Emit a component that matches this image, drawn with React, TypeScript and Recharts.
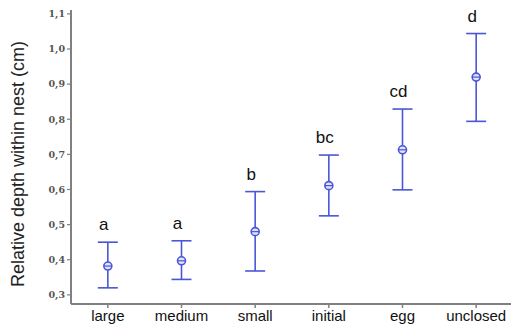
import { ComposedChart, Scatter, ErrorBar, XAxis, YAxis } from "recharts";

const categories = ["large", "medium", "small", "initial", "egg", "unclosed"];
const means = [0.382, 0.397, 0.48, 0.611, 0.713, 0.92];
const lows = [0.32, 0.344, 0.368, 0.525, 0.599, 0.794];
const highs = [0.45, 0.454, 0.594, 0.698, 0.829, 1.044];
const letters = ["a", "a", "b", "bc", "cd", "d"];
const yTicks = [0.3, 0.4, 0.5, 0.6, 0.7, 0.8, 0.9, 1.0, 1.1];

const data = categories.map((name, i) => ({
  name,
  mean: means[i],
  high: highs[i],
  err: [means[i] - lows[i], highs[i] - means[i]],
  letter: letters[i],
}));

const BLUE = "#4a56d6";
const AXIS = "#808080";

const MeanDot = (props: any) => {
  const { cx, cy } = props;
  return (
    <g>
      <circle cx={cx} cy={cy} r={4} fill="#dfe2fa" stroke={BLUE} strokeWidth={1.6} />
      <line x1={cx - 4} x2={cx + 4} y1={cy} y2={cy} stroke={BLUE} strokeWidth={1.2} />
    </g>
  );
};

const LetterMark = (props: any) => {
  const { cx, cy, payload } = props;
  return (
    <text
      x={cx - 4}
      y={cy - 12}
      textAnchor="middle"
      fontFamily="'Liberation Sans Narrow', 'Liberation Sans', Arial, sans-serif"
      fontSize={17}
      fill="#111"
    >
      {payload.letter}
    </text>
  );
};

const YLabel = () => (
  <text
    x={0}
    y={0}
    transform="translate(24 164) rotate(-90)"
    textAnchor="middle"
    fontFamily="'Liberation Sans', Arial, sans-serif"
    fontSize={18}
    fill="#222"
  >
    Relative depth within nest (cm)
  </text>
);

export default function App() {
  return (
    <div
      style={{
        position: "fixed",
        left: 0,
        top: 0,
        width: 511,
        height: 328,
        overflow: "hidden",
        background: "#fff",
      }}
    >
      <ComposedChart
        width={514}
        height={328}
        data={data}
        margin={{ top: 10, right: 1, bottom: 0, left: 0 }}
      >
        <XAxis
          dataKey="name"
          type="category"
          scale="band"
          height={24}
          axisLine={{ stroke: AXIS, strokeWidth: 2 }}
          tickLine={{ stroke: AXIS, strokeWidth: 1.5 }}
          tickSize={4}
          tick={{
            fontSize: 15,
            fill: "#111",
            fontFamily: "'Liberation Sans Narrow', 'Liberation Sans', Arial, sans-serif",
          }}
          interval={0}
        />
        <XAxis
          xAxisId="top"
          dataKey="name"
          type="category"
          scale="band"
          orientation="top"
          height={0}
          tick={false}
          tickLine={false}
          axisLine={{ stroke: AXIS, strokeWidth: 2 }}
        />
        <YAxis
          width={71}
          type="number"
          domain={[0.274, 1.111]}
          ticks={yTicks}
          allowDataOverflow
          axisLine={{ stroke: AXIS, strokeWidth: 2 }}
          tickLine={{ stroke: AXIS, strokeWidth: 1.2 }}
          tickSize={4}
          tickFormatter={(v: number) => v.toFixed(1).replace(".", ",")}
          tick={{
            fontSize: 9.5,
            fill: "#555",
            fontWeight: "bold",
            fontFamily: "'DejaVu Serif', serif",
          }}
          label={<YLabel />}
        />
        <Scatter
          dataKey="mean"
          shape={<MeanDot />}
          isAnimationActive={false}
        >
          <ErrorBar
            dataKey="err"
            direction="y"
            width={10}
            stroke={BLUE}
            strokeWidth={1.6}
          />
        </Scatter>
        <Scatter
          dataKey="high"
          shape={<LetterMark />}
          isAnimationActive={false}
        />
      </ComposedChart>
    </div>
  );
}
